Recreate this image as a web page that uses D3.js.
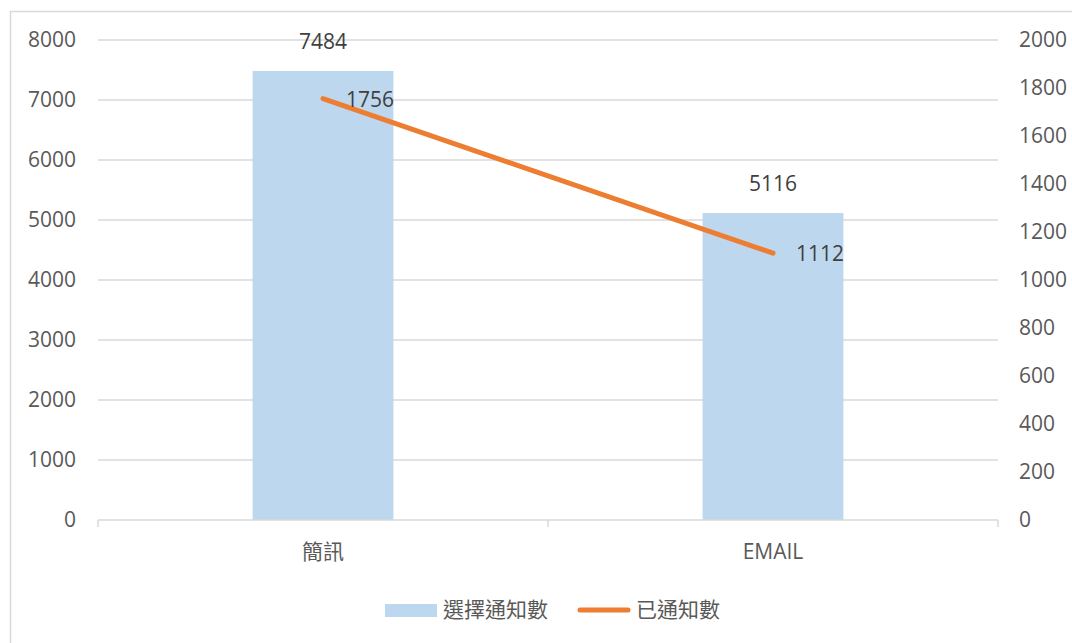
<!DOCTYPE html>
<html>
<head>
<meta charset="utf-8">
<script src="https://cdn.jsdelivr.net/npm/d3@7"></script>
<style>
  body { margin: 0; background: #fff; }
  text { font-family: "Open Sans", "Noto Sans CJK TC", sans-serif; fill: #595959; }
</style>
</head>
<body>
<div id="chart"></div>
<script>
"use strict";

// data
const categories = ["簡訊", "EMAIL"];
const selectedCounts = [7484, 5116];   // 選擇通知數 (left axis)
const notifiedCounts = [1756, 1112];   // 已通知數 (right axis)
const leftTicks = [0, 1000, 2000, 3000, 4000, 5000, 6000, 7000, 8000];
const rightTicks = [0, 200, 400, 600, 800, 1000, 1200, 1400, 1600, 1800, 2000];
const seriesNames = ["選擇通知數", "已通知數"];

const width = 1072, height = 643;
const plot = { left: 98, right: 998, top: 40, bottom: 520 };
const barColor = "#bdd7ee", lineColor = "#ed7d31", gridColor = "#d9d9d9";
const fontSize = "21px";

const svg = d3.select("#chart").append("svg")
    .attr("width", width)
    .attr("height", height);

// chart frame, runs off the right and bottom edge like in the screenshot
svg.append("rect")
    .attr("x", 10.5).attr("y", 11.5)
    .attr("width", 1100).attr("height", 700)
    .attr("fill", "none")
    .attr("stroke", gridColor)
    .attr("stroke-width", 1.5);

const x = d3.scaleBand()
    .domain(categories)
    .range([plot.left, plot.right])
    .paddingInner(0.687)
    .paddingOuter(0.3435);

const xPoint = d3.scalePoint()
    .domain(categories)
    .range([plot.left, plot.right])
    .padding(0.5);

const yLeft = d3.scaleLinear().domain([0, 8000]).range([plot.bottom, plot.top]);
const yRight = d3.scaleLinear().domain([0, 2000]).range([plot.bottom, plot.top]);

// gridlines
svg.append("g")
    .selectAll("line")
    .data(leftTicks.filter(d => d > 0))
    .join("line")
    .attr("x1", plot.left).attr("x2", plot.right)
    .attr("y1", d => yLeft(d)).attr("y2", d => yLeft(d))
    .attr("stroke", gridColor)
    .attr("stroke-width", 1.3);

// left axis labels
svg.append("g")
    .style("font-size", fontSize)
    .selectAll("text")
    .data(leftTicks)
    .join("text")
    .attr("x", 76)
    .attr("y", d => yLeft(d))
    .attr("dy", "0.35em")
    .attr("text-anchor", "end")
    .text(d => d);

// right axis labels
svg.append("g")
    .style("font-size", fontSize)
    .selectAll("text")
    .data(rightTicks)
    .join("text")
    .attr("x", 1019)
    .attr("y", d => yRight(d))
    .attr("dy", "0.35em")
    .text(d => d);

// bars
const bars = categories.map((c, i) => ({ cat: c, value: selectedCounts[i] }));
svg.append("g")
    .selectAll("rect")
    .data(bars)
    .join("rect")
    .attr("x", d => x(d.cat))
    .attr("y", d => yLeft(d.value))
    .attr("width", x.bandwidth())
    .attr("height", d => yLeft(0) - yLeft(d.value))
    .attr("fill", barColor);

// bottom axis with tick marks at band edges
const xAxis = svg.append("g");
xAxis.append("line")
    .attr("x1", plot.left).attr("x2", plot.right)
    .attr("y1", plot.bottom).attr("y2", plot.bottom)
    .attr("stroke", gridColor).attr("stroke-width", 1.5);
const edges = [plot.left].concat(categories.map(c => x(c) + x.bandwidth() / 2 + x.step() / 2));
xAxis.selectAll("line.tick")
    .data(edges)
    .join("line")
    .attr("class", "tick")
    .attr("x1", d => d).attr("x2", d => d)
    .attr("y1", plot.bottom).attr("y2", plot.bottom + 7)
    .attr("stroke", gridColor).attr("stroke-width", 1.5);
xAxis.selectAll("text")
    .data(categories)
    .join("text")
    .attr("x", d => xPoint(d))
    .attr("y", 552)
    .attr("dy", "0.35em")
    .attr("text-anchor", "middle")
    .style("font-size", fontSize)
    .text(d => d);

// bar value labels
svg.append("g")
    .style("font-size", fontSize)
    .selectAll("text")
    .data(bars)
    .join("text")
    .attr("x", d => xPoint(d.cat))
    .attr("y", d => yLeft(d.value) - 29)
    .attr("dy", "0.35em")
    .attr("text-anchor", "middle")
    .style("fill", "#404040")
    .text(d => d.value);

// line series on right axis
const points = categories.map((c, i) => ({ cat: c, value: notifiedCounts[i] }));
const line = d3.line()
    .x(d => xPoint(d.cat))
    .y(d => yRight(d.value));
svg.append("path")
    .datum(points)
    .attr("d", line)
    .attr("fill", "none")
    .attr("stroke", lineColor)
    .attr("stroke-width", 5)
    .attr("stroke-linecap", "round");

svg.append("g")
    .style("font-size", fontSize)
    .selectAll("text")
    .data(points)
    .join("text")
    .attr("x", d => xPoint(d.cat) + 23)
    .attr("y", d => yRight(d.value) + 1)
    .attr("dy", "0.35em")
    .style("fill", "#404040")
    .text(d => d.value);

// legend
const legend = svg.append("g").style("font-size", fontSize);
legend.append("rect")
    .attr("x", 385).attr("y", 604)
    .attr("width", 52).attr("height", 13)
    .attr("fill", barColor);
legend.append("text")
    .attr("x", 443).attr("y", 610).attr("dy", "0.35em")
    .text(seriesNames[0]);
legend.append("line")
    .attr("x1", 580).attr("x2", 628)
    .attr("y1", 610).attr("y2", 610)
    .attr("stroke", lineColor)
    .attr("stroke-width", 5)
    .attr("stroke-linecap", "round");
legend.append("text")
    .attr("x", 636).attr("y", 610).attr("dy", "0.35em")
    .text(seriesNames[1]);
</script>
</body>
</html>
